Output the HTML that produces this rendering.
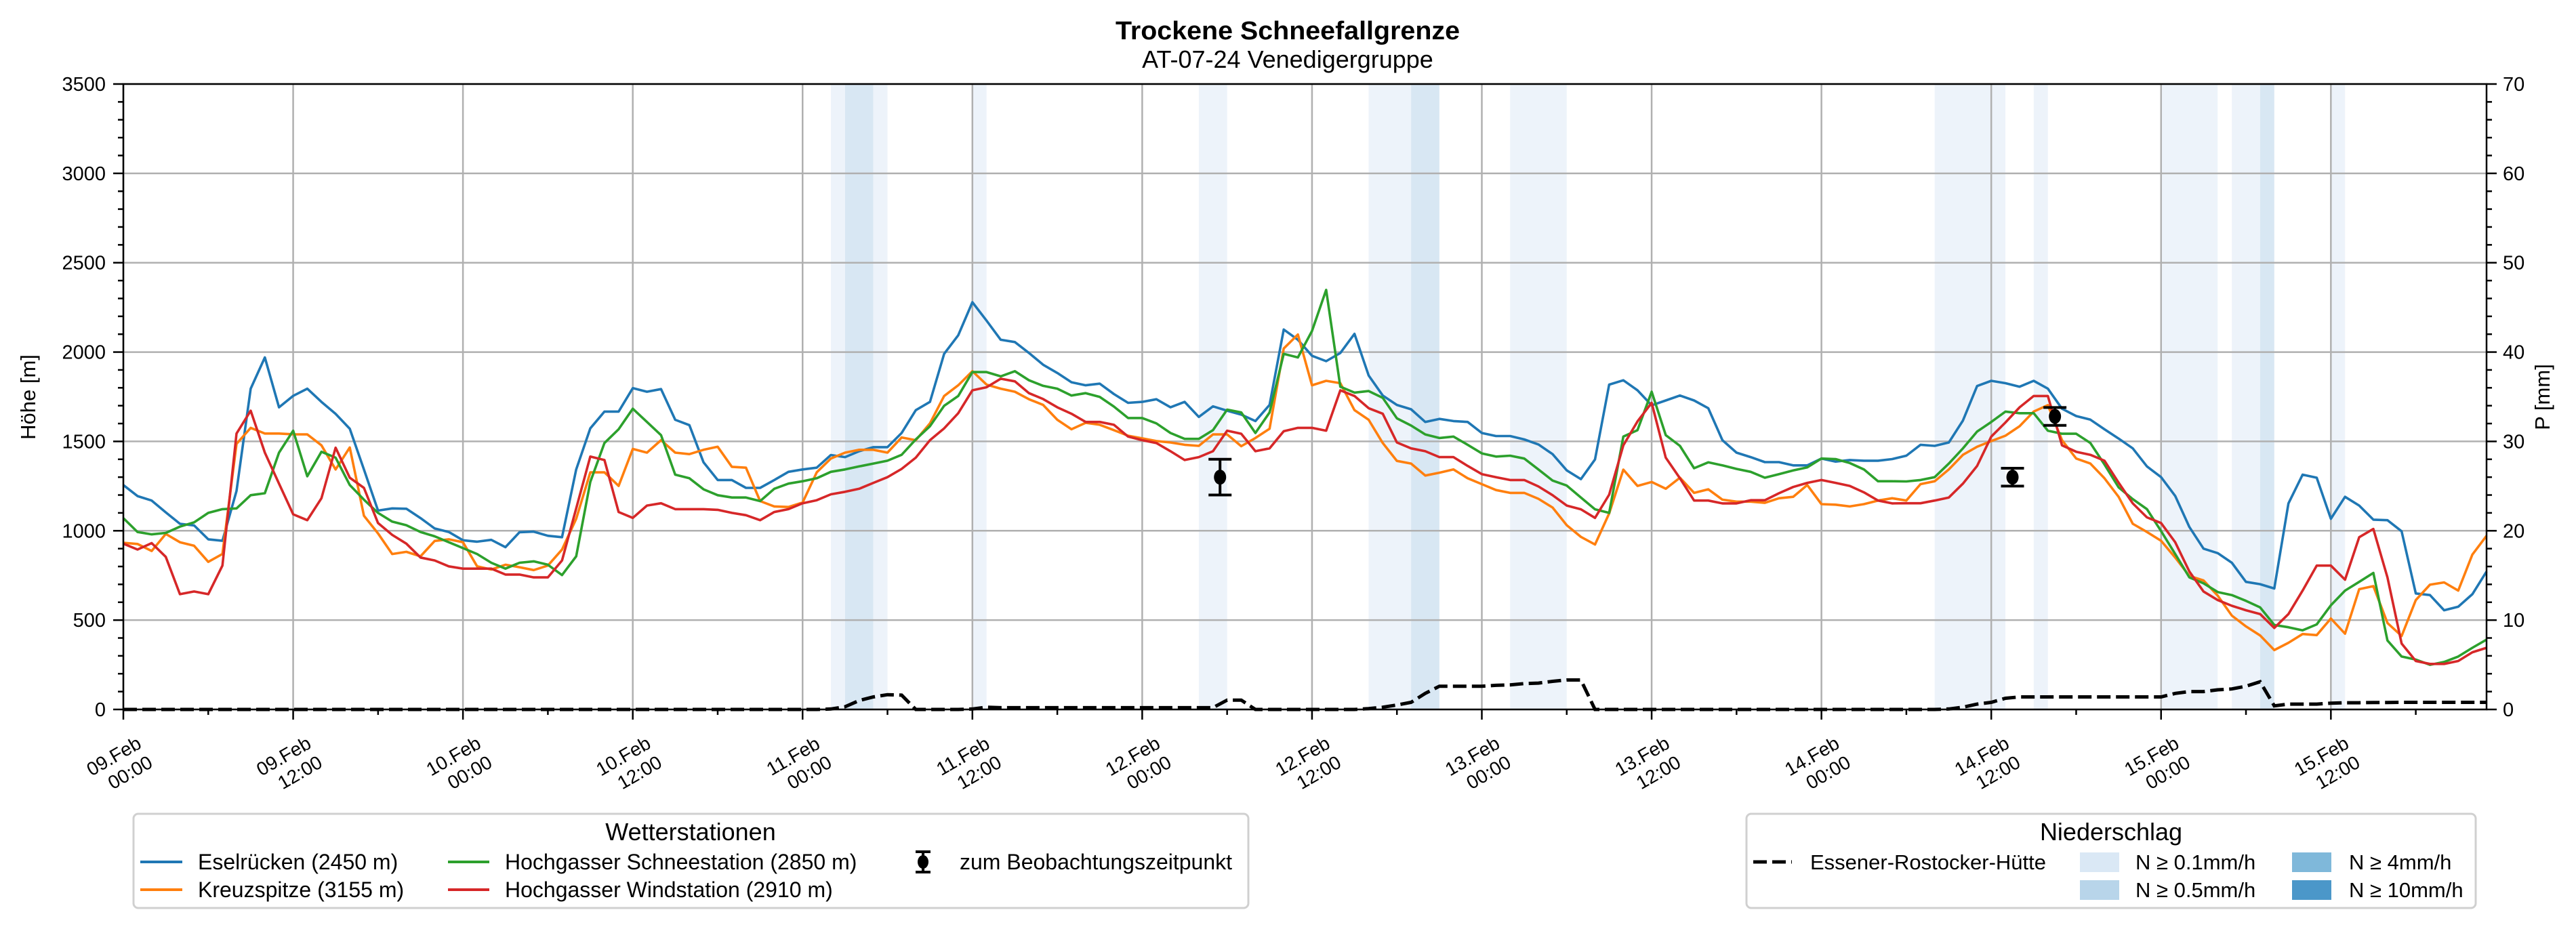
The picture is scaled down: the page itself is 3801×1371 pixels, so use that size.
<!DOCTYPE html>
<html><head><meta charset="utf-8"><style>
html,body{margin:0;padding:0;background:#fff}
svg{display:block;font-family:"Liberation Sans",sans-serif}
</style></head><body>
<svg id="chart" width="3801" height="1371" viewBox="0 0 3801 1371" xmlns="http://www.w3.org/2000/svg">
<text x="1900" y="58" text-anchor="middle" font-size="38" font-weight="bold" textLength="508" lengthAdjust="spacingAndGlyphs">Trockene Schneefallgrenze</text>
<text x="1900" y="100" text-anchor="middle" font-size="36">AT-07-24 Venedigergruppe</text>
<g id="bands"></g>
<g id="grid"></g>
<g id="series"></g>
<g id="axes"></g>
<text transform="translate(52,586) rotate(-90)" text-anchor="middle" font-size="31">Höhe [m]</text>
<text transform="translate(3762,586) rotate(-90)" text-anchor="middle" font-size="31">P [mm]</text>
<g>
<rect x="197" y="1201" width="1645" height="139" rx="7" fill="#fff" stroke="#d0d0d0" stroke-width="3"/>
<text x="1019" y="1240" text-anchor="middle" font-size="36">Wetterstationen</text>
<g><line x1="207" y1="1272" x2="269" y2="1272" stroke="#1f77b4" stroke-width="4"/><text x="292" y="1283" font-size="32">Eselrücken (2450 m)</text></g>
<g><line x1="207" y1="1313" x2="269" y2="1313" stroke="#ff7f0e" stroke-width="4"/><text x="292" y="1324" font-size="32">Kreuzspitze (3155 m)</text></g>
<g><line x1="661" y1="1272" x2="722" y2="1272" stroke="#2ca02c" stroke-width="4"/><text x="745" y="1283" font-size="32">Hochgasser Schneestation (2850 m)</text></g>
<g><line x1="661" y1="1313" x2="722" y2="1313" stroke="#d62728" stroke-width="4"/><text x="745" y="1324" font-size="32">Hochgasser Windstation (2910 m)</text></g>
<g><line x1="1362" y1="1257" x2="1362" y2="1287" stroke="#000" stroke-width="4"/><line x1="1351" y1="1257" x2="1373" y2="1257" stroke="#000" stroke-width="4"/><line x1="1351" y1="1287" x2="1373" y2="1287" stroke="#000" stroke-width="4"/><ellipse cx="1362" cy="1272" rx="8" ry="10" fill="#000"/><text x="1416" y="1283" font-size="32">zum Beobachtungszeitpunkt</text></g>
</g>
<g>
<rect x="2577" y="1201" width="1076" height="139" rx="7" fill="#fff" stroke="#d0d0d0" stroke-width="3"/>
<text x="3115" y="1240" text-anchor="middle" font-size="36">Niederschlag</text>
<g><line x1="2587" y1="1272" x2="2644" y2="1272" stroke="#000" stroke-width="5" stroke-dasharray="20 8"/><text x="2671" y="1283" font-size="31">Essener-Rostocker-Hütte</text></g>
<g><rect x="3069" y="1258" width="58" height="29" fill="#dae8f5"/><text x="3151" y="1283" font-size="31">N ≥ 0.1mm/h</text></g>
<g><rect x="3069" y="1299" width="58" height="29" fill="#b8d5ea"/><text x="3151" y="1324" font-size="31">N ≥ 0.5mm/h</text></g>
<g><rect x="3382" y="1258" width="58" height="29" fill="#7fb8da"/><text x="3466" y="1283" font-size="31">N ≥ 4mm/h</text></g>
<g><rect x="3382" y="1299" width="58" height="29" fill="#4b97c9"/><text x="3466" y="1324" font-size="31">N ≥ 10mm/h</text></g>
</g>
</svg>
<script>
const xTickLabels = ["09.Feb|00:00","09.Feb|12:00","10.Feb|00:00","10.Feb|12:00","11.Feb|00:00","11.Feb|12:00","12.Feb|00:00","12.Feb|12:00","13.Feb|00:00","13.Feb|12:00","14.Feb|00:00","14.Feb|12:00","15.Feb|00:00","15.Feb|12:00"];
const yTicks = [0,500,1000,1500,2000,2500,3000,3500];
const y2Ticks = [0,10,20,30,40,50,60,70];
const eselruecken = [1256,1194,1169,1103,1039,1030,952,944,1223,1795,1970,1691,1755,1795,1721,1654,1571,1343,1113,1125,1123,1071,1013,993,947,939,949,908,992,995,972,964,1343,1573,1667,1667,1798,1778,1793,1621,1591,1383,
1284,1284,1240,1240,1284,1330,1343,1353,1424,1412,1445,1468,1468,1547,1675,1721,1990,2094,2279,2176,2069,2056,1995,1929,1883,1831,1814,1823,1765,1716,1721,1736,1691,1721,1637,1696,1672,1650,1614,1704,2126,2069,
1979,1949,1995,2102,1869,1757,1704,1680,1609,1626,1614,1609,1547,1530,1530,1511,1483,1429,1338,1289,1399,1818,1842,1786,1702,1729,1757,1729,1686,1507,1437,1412,1384,1384,1366,1366,1404,1387,1396,1392,1392,1401,
1420,1481,1475,1494,1617,1810,1839,1826,1806,1839,1795,1683,1642,1622,1568,1516,1461,1360,1300,1195,1021,900,875,821,714,701,677,1153,1314,1297,1067,1190,1141,1062,1059,997,649,640,555,575,645,772];
const kreuzspitze = [933,926,887,982,936,916,826,870,1486,1576,1544,1544,1540,1539,1478,1343,1466,1084,985,870,882,857,943,952,936,801,783,810,796,780,805,895,1067,1327,1327,1251,1458,1437,1507,1437,1429,1453,
1470,1358,1353,1166,1136,1133,1158,1327,1404,1437,1453,1453,1437,1522,1507,1601,1754,1814,1893,1818,1795,1778,1736,1704,1621,1568,1604,1593,1563,1532,1517,1502,1494,1481,1475,1539,1539,1473,1519,1571,2020,2098,
1814,1839,1826,1675,1621,1491,1391,1376,1309,1325,1343,1294,1261,1228,1212,1212,1179,1130,1031,966,923,1097,1342,1251,1273,1235,1297,1212,1232,1174,1163,1163,1156,1182,1190,1256,1149,1146,1136,1149,1169,1182,
1169,1261,1277,1343,1425,1470,1502,1532,1585,1667,1703,1507,1404,1376,1294,1190,1039,993,944,850,747,722,637,525,465,414,332,373,422,416,509,424,673,690,484,411,612,698,711,665,867,972];
const schneestation = [1071,993,980,988,1023,1047,1100,1121,1125,1199,1210,1437,1560,1305,1442,1409,1256,1174,1100,1051,1031,993,969,936,903,870,821,788,821,829,810,752,857,1273,1491,1568,1683,1609,1535,1314,1294,1232,
1199,1186,1186,1166,1235,1264,1277,1294,1330,1343,1360,1376,1392,1425,1511,1585,1699,1754,1888,1888,1864,1893,1842,1811,1795,1757,1770,1749,1695,1631,1631,1601,1547,1514,1514,1563,1678,1662,1547,1662,1990,1970,
2118,2348,1806,1773,1782,1744,1629,1589,1539,1519,1527,1481,1433,1415,1420,1404,1343,1281,1253,1186,1120,1100,1527,1563,1778,1535,1475,1350,1383,1366,1346,1330,1297,1317,1338,1355,1404,1401,1379,1343,1277,1277,
1276,1284,1300,1376,1461,1555,1609,1667,1658,1658,1560,1543,1543,1491,1371,1243,1177,1121,998,870,739,706,657,640,608,571,473,460,443,476,583,665,714,764,386,296,279,250,266,296,345,391];
const windstation = [928,895,931,854,645,660,645,805,1544,1672,1437,1264,1092,1059,1182,1465,1297,1240,1043,977,928,850,834,801,788,788,788,755,755,739,739,834,1125,1415,1396,1105,1072,1141,1154,1121,1121,1121,
1117,1100,1087,1059,1105,1121,1154,1171,1204,1218,1235,1268,1300,1346,1409,1507,1573,1658,1786,1803,1851,1836,1770,1737,1691,1655,1609,1609,1593,1527,1507,1491,1445,1396,1412,1445,1560,1543,1445,1461,1557,1576,
1576,1560,1786,1754,1686,1655,1494,1461,1445,1412,1412,1363,1317,1300,1284,1284,1248,1199,1141,1120,1072,1202,1478,1612,1716,1409,1294,1169,1169,1153,1153,1171,1171,1210,1245,1268,1284,1268,1251,1215,1169,1153,
1154,1154,1169,1186,1264,1363,1527,1606,1691,1754,1754,1478,1442,1425,1392,1269,1153,1075,1043,936,772,660,612,580,555,534,456,534,665,805,805,726,964,1010,739,369,271,255,255,271,320,345];
const precip = [0,0,0,0,0,0,0,0,0,0,0,0,0,0,0,0,0,0,0,0,0,0,0,0,0,0,0,0,0,0,0,0,0,0,0,0,0,0,0,0,0,0,0,0,0,0,0,0,0,0,
0.05,0.3,1.0,1.4,1.65,1.6,0,0,0,0,0.05,0.25,
0.2,0.2,0.2,0.2,0.2,0.2,0.2,0.2,0.2,0.2,0.2,0.2,0.2,0.2,0.2,0.2,
1.05,1.05,0,0,0,0,0,0,0,0,
0.1,0.25,0.5,0.8,1.8,2.6,2.6,2.6,2.6,2.7,2.75,2.9,2.95,3.15,3.3,3.3,0,
0,0,0,0,0,0,0,0,0,0,0,0,0,0,0,0,0,0,0,0,0,0,0,0,
0.05,0.25,0.6,0.8,1.25,1.4,1.4,1.4,1.4,1.4,1.4,1.4,1.4,1.4,1.4,1.4,
1.8,2.0,2.0,2.2,2.3,2.6,3.1,0.4,0.6,0.6,0.6,0.7,
0.75,0.75,0.78,0.78,0.8,0.8,0.8,0.8,0.8,0.8,0.8];
const obsHours = [77.5,133.5,136.5];
const obsValues = [1300,1300,1640];
const obsErrors = [100,50,50];
const bandStart = [50,51,53,60,76,88,91,98,128,135,144,149,151,156];
const bandEnd = [51,53,54,61,78,91,93,102,133,136,148,151,152,157];
const bandLevel = [1,2,1,1,1,1,2,1,1,1,1,1,2,1];

const NS="http://www.w3.org/2000/svg";
const L=182,R=3669,T=124,B=1047,HMAX=167;
function xs(h){return L+h*(R-L)/HMAX;}
function ys(v){return B-v/3500*(B-T);}
function yp(p){return B-p/70*(B-T);}
function mk(tag,attrs,parent){const e=document.createElementNS(NS,tag);for(const k in attrs)e.setAttribute(k,attrs[k]);parent.appendChild(e);return e;}
const gB=document.getElementById('bands'),gG=document.getElementById('grid'),gS=document.getElementById('series'),gA=document.getElementById('axes');
const bandColors=['#ffffff','#edf3fa','#d8e7f3','#a9cce4','#6fa9d3'];
for(let i=0;i<bandStart.length;i++){
  const r=mk('rect',{x:xs(bandStart[i]),y:T,width:xs(bandEnd[i])-xs(bandStart[i]),height:B-T,fill:bandColors[bandLevel[i]]},gB);
  
  
}
for(let i=0;i<xTickLabels.length;i++){const x=xs(i*12);const l=mk('line',{x1:x,y1:T,x2:x,y2:B,stroke:'#b0b0b0','stroke-width':2.5},gG);}
yTicks.forEach(v=>{const l=mk('line',{x1:L,y1:ys(v),x2:R,y2:ys(v),stroke:'#b0b0b0','stroke-width':2.5},gG);});
function pathOf(arr,fy){return arr.map((v,i)=>(i?'L':'M')+xs(i).toFixed(1)+' '+fy(v).toFixed(1)).join(' ');}
const pp=mk('path',{d:pathOf(precip,yp),fill:'none',stroke:'#000','stroke-width':5,'stroke-dasharray':'20 8'},gS);


const ser=[[eselruecken,'#1f77b4','line-eselruecken'],[kreuzspitze,'#ff7f0e','line-kreuzspitze'],[schneestation,'#2ca02c','line-hochgasser-schneestation'],[windstation,'#d62728','line-hochgasser-windstation']];
ser.forEach(s=>{const p=mk('path',{d:pathOf(s[0],ys),fill:'none',stroke:s[1],'stroke-width':3.6,'stroke-linejoin':'round'},gS);
  
  });
for(let i=0;i<obsHours.length;i++){
  const g=mk('g',{},gS);
  
  
  const x=xs(obsHours[i]),y1=ys(obsValues[i]-obsErrors[i]),y2=ys(obsValues[i]+obsErrors[i]);
  mk('line',{x1:x,y1:y1,x2:x,y2:y2,stroke:'#000','stroke-width':4},g);
  mk('line',{x1:x-17,y1:y1,x2:x+17,y2:y1,stroke:'#000','stroke-width':4},g);
  mk('line',{x1:x-17,y1:y2,x2:x+17,y2:y2,stroke:'#000','stroke-width':4},g);
  mk('ellipse',{cx:x,cy:ys(obsValues[i]),rx:9,ry:11,fill:'#000'},g);
}
mk('rect',{x:L,y:T,width:R-L,height:B-T,fill:'none',stroke:'#000','stroke-width':2.5},gA);
for(let v=0;v<=3500;v+=100){const y=ys(v);const major=v%500===0;mk('line',{x1:L-(major?15:8),y1:y,x2:L,y2:y,stroke:'#000','stroke-width':2.5},gA);}
yTicks.forEach(v=>{const t=mk('text',{x:L-26,y:ys(v)+10,'text-anchor':'end','font-size':29},gA);t.textContent=v;
  
  });
for(let p=0;p<=70;p+=2){const y=yp(p);const major=p%10===0;mk('line',{x1:R,y1:y,x2:R+(major?15:8),y2:y,stroke:'#000','stroke-width':2.5},gA);}
y2Ticks.forEach(p=>{const t=mk('text',{x:R+24,y:yp(p)+10,'text-anchor':'start','font-size':29},gA);t.textContent=p;
  
  });
for(let h=0;h<=HMAX;h+=6){const x=xs(h);const major=h%12===0;mk('line',{x1:x,y1:B,x2:x,y2:B+(major?15:8),stroke:'#000','stroke-width':2.5},gA);}
xTickLabels.forEach((lab,i)=>{const x=xs(i*12);const parts=lab.split('|');
  const t1=mk('text',{transform:`translate(${x-14},${1116}) rotate(-30)`,'text-anchor':'middle','dominant-baseline':'central','font-size':28},gA);t1.textContent=parts[0];
  
  
  const t2=mk('text',{transform:`translate(${x+10},${1140}) rotate(-30)`,'text-anchor':'middle','dominant-baseline':'central','font-size':28},gA);t2.textContent=parts[1];
  
  
});
</script>
</body></html>
